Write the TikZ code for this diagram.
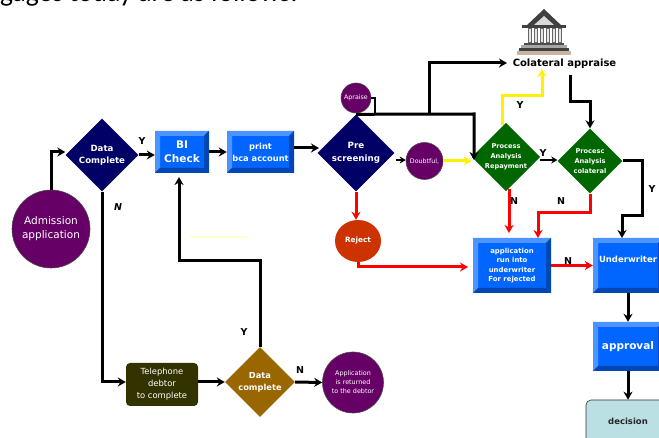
\documentclass[tikz,border=0pt]{standalone}
\usepackage{fontspec}
\setmainfont{DejaVu Sans}
\newfontfamily\carl{Carlito}
\usetikzlibrary{shapes.geometric,arrows.meta,calc}
\definecolor{navy}{HTML}{000066}
\definecolor{plum}{HTML}{660066}
\definecolor{forest}{HTML}{006600}
\definecolor{gold}{HTML}{996600}
\definecolor{olivedk}{HTML}{333300}
\definecolor{rust}{HTML}{CC3300}
\definecolor{face}{HTML}{0066FF}
\definecolor{lite}{HTML}{4D94FF}
\definecolor{dark}{HTML}{0047B3}
\definecolor{pale}{HTML}{BBE0E3}
\tikzset{
  x=1pt,y=-1pt,
  base/.style={text=white,font=\bfseries,align=center,inner sep=0pt},
  dia/.style={base,diamond,minimum width=#1,minimum height=#1,aspect=1},
  circ/.style={base,circle,fill=plum,draw=black!70,line width=.6pt,minimum size=#1},
  bevel/.style={base,rectangle,fill=face,minimum width=#1,
    path picture={
      \coordinate (nw) at (path picture bounding box.north west);
      \coordinate (se) at (path picture bounding box.south east);
      \coordinate (ne) at (path picture bounding box.north east);
      \coordinate (sw) at (path picture bounding box.south west);
      \fill[lite] (nw) -- (ne) -- ++(-5pt,-5pt) -- ($(nw)+(5pt,-5pt)$) -- cycle;
      \fill[lite] (nw) -- (sw) -- ++(5pt,5pt) -- ($(nw)+(5pt,-5pt)$) -- cycle;
      \fill[dark] (se) -- (sw) -- ++(5pt,5pt) -- ($(se)+(-5pt,5pt)$) -- cycle;
      \fill[dark] (se) -- (ne) -- ++(-5pt,-5pt) -- ($(se)+(-5pt,5pt)$) -- cycle;
    }},
  flow/.style={line width=3pt,draw=black,-{Stealth[length=8pt,width=9pt]}},
  flowred/.style={flow,draw=red},
  flowyel/.style={flow,draw=yellow},
  lab/.style={font=\bfseries\fontsize{9.5}{10}\selectfont,text=black,inner sep=0pt},
}
\begin{document}
\begin{tikzpicture}
\clip (0,0) rectangle (659,438);
\fill[white] (0,0) rectangle (659,438);
% heading, cut by the top edge
\node[anchor=base west,inner sep=0pt,font=\carl\fontsize{27.5}{28}\selectfont] (head) at (0,1.5) {gages today are as follows:};
% nodes
\node[circ=78pt,font=\fontsize{10.5}{14}\selectfont\mdseries] (adm) at (51,229) {Admission\\application};
\node[dia=73pt,fill=navy,font=\bfseries\fontsize{8.6}{12}\selectfont] (dc) at (102,155) {Data\\Complete};
\node[bevel=54pt,minimum height=42pt,font=\bfseries\fontsize{10.5}{14}\selectfont] (bi) at (182,152) {BI\\Check};
\node[bevel=67pt,minimum height=42pt,font=\bfseries\fontsize{8.3}{12}\selectfont] (pr) at (260.5,152) {print\\bca account};
\node[dia=77pt,fill=navy,font=\bfseries\fontsize{8.7}{13}\selectfont] (ps) at (356,153) {Pre\\screening};
\node[circ=30pt,font=\mdseries\fontsize{6.3}{7}\selectfont] (ap) at (356,98) {Apraise};
\node[circ=37pt,font=\mdseries\fontsize{6.3}{7}\selectfont] (db) at (424.5,161) {Doubtful,};
\node[dia=65pt,fill=forest,font=\bfseries\fontsize{6.6}{10}\selectfont] (par) at (506,157) {Process\\Analysis\\Repayment};
\node[dia=65pt,fill=forest,font=\bfseries\fontsize{6.6}{10}\selectfont] (pac) at (590,161) {Procesc\\Analysis\\colateral};
\node[base,ellipse,fill=rust,minimum width=46pt,minimum height=42pt,font=\bfseries\fontsize{7.3}{8}\selectfont] (rj) at (358,241) {Reject};
\node[bevel=78pt,minimum height=55pt,font=\bfseries\fontsize{6.9}{9.5}\selectfont] (app) at (512,265.5) {application\\run into\\underwriter\\For rejected};
\node[bevel=70pt,minimum height=55pt,font=\bfseries\fontsize{8.5}{10}\selectfont,text depth=0pt] (uw) at (628,265.5) {\raisebox{12pt}{Underwriter}};
\node[bevel=70pt,minimum height=49pt,font=\bfseries\fontsize{10.5}{12}\selectfont] (apv) at (628,346.5) {approval};
\node[base,rectangle,rounded corners=5pt,fill=pale,draw=black!80,line width=.6pt,text=black!85,minimum width=84pt,minimum height=60pt,font=\bfseries\fontsize{8.5}{9}\selectfont,text depth=0pt] (dec) at (628,430) {\raisebox{18pt}{decision}};
\node[base,rectangle,rounded corners=4pt,fill=olivedk,minimum width=72pt,minimum height=43pt,font=\mdseries\fontsize{8.4}{12}\selectfont] (tel) at (162,384.5) {Telephone\\debtor\\to complete};
\node[dia=70pt,fill=gold,font=\bfseries\fontsize{8.3}{12}\selectfont] (dc2) at (260,382) {Data\\complete};
\node[circ=61pt,font=\mdseries\fontsize{6.4}{9}\selectfont] (ret) at (353,382.5) {Application\\is returned\\to the debtor};
% bank
\begin{scope}[shift={(544,0)}]
 \fill[black!75] (-19,27) -- (0,9) -- (19,27) -- cycle;
 \fill[white!85!black] (-10,25) -- (0,16) -- (10,25) -- cycle;
 \fill[black!75] (-22,25) rectangle (22,28);
 \foreach \k in {-16,-10,-4,2,8,14}{
   \fill[black!60] (\k,28) rectangle ++(4,15);
   \fill[white!90!black] (\k+1,29) rectangle ++(1.5,13);
 }
 \fill[black!70] (-20,43) rectangle (20,45);
 \fill[black!35] (-23,45) rectangle (23,48);
 \fill[black!75] (-25,48) rectangle (25,51);
 \fill[black!30!brown!45] (-27,51) rectangle (27,55);
\end{scope}
\node[inner sep=0pt,font=\bfseries\fontsize{10}{10}\selectfont] (col) at (564.5,63.5) {Colateral appraise};
\coordinate (colr) at (570,75);
\coordinate (coll) at (507,63);
\coordinate (coly) at (542,69);
% connectors
\draw[flow] (adm.north) |- (dc.west|-0,152);
\draw[flow] (dc.east) -- (bi.west|-dc.east);
\draw[flow] (bi.east) -- (pr.west);
\draw[flow] ($(pr.east)+(0,-4)$) -- (319,148);
\draw[flow,line width=2pt,-{Stealth[length=6pt,width=7pt]}] (396,160) -- (db.west|-0,160);
\draw[flowyel] (db.east) -- (par.west|-db.east);
\draw[line width=2.4pt] (ap.east) -| (375,114);
\draw[flow] (ps.north) -- (474,114) -- (474,160);
\draw[flow] (429,114) |- (coll);
\draw[flowyel] (502,125) |- (coly|-0,96) -- (coly);
\draw[flow] (colr) |- (pac.north|-0,102) -- (pac.north);
\draw[flow,line width=2pt,-{Stealth[length=6pt,width=7pt]}] (par.east|-0,160) -- (pac.west|-0,160);
\draw[flow] (pac.east) -- (642,161) |- (622,216) -- (622,238);
\draw[flowred] (509,189) -- (509,233);
\draw[flowred] (pac.south) |- (538,213) -- (538,238);
\draw[flowred] (ps.south) -- (rj.north-|ps.south);
\draw[flowred] (rj.south) |- (468,267);
\draw[flowred] (app.east) -- (uw.west);
\draw[flow] (uw.south) -- (apv.north);
\draw[flow] (apv.south) -- (dec.north);
\draw[flow] (dc.south) |- (tel.west|-0,382);
\draw[flow] (tel.east|-0,382) -- (dc2.west);
\draw[flow] (dc2.north) |- (179,261) -- (179,177);
\draw[flow] (dc2.east) -- (ret.west);
\draw[draw={rgb,255:red,255;green,255;blue,204},line width=2pt] (190,237) -- (247,237);
% labels
\node[lab] (ly1) at (142,141) {Y};
\node[lab,font=\bfseries\itshape\fontsize{9.5}{10}\selectfont] (ln1) at (118,207) {N};
\node[lab] (ly2) at (244,332) {Y};
\node[lab] (ln2) at (300,370) {N};
\node[lab] (ly3) at (520,105) {Y};
\node[lab] (ly4) at (543,153) {Y};
\node[lab] (ln3) at (514,201) {N};
\node[lab] (ln4) at (561,201) {N};
\node[lab] (ly5) at (652,189) {Y};
\node[lab] (ln5) at (568,261) {N};
\end{tikzpicture}
\end{document}
